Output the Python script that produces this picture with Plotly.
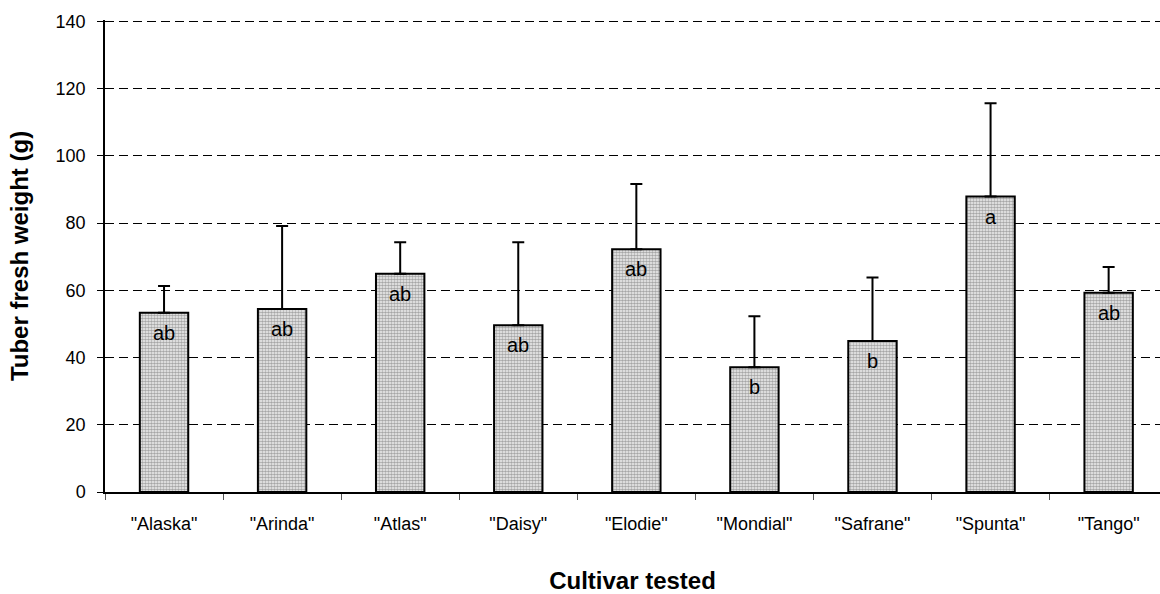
import plotly.graph_objects as go

# Mean tuber fresh weight per cultivar, with standard error above each bar
cultivars = ['"Alaska"', '"Arinda"', '"Atlas"', '"Daisy"', '"Elodie"',
             '"Mondial"', '"Safrane"', '"Spunta"', '"Tango"']
weights = [53.3, 54.4, 64.9, 49.6, 72.2, 37.1, 44.9, 87.9, 59.3]
errors = [8.0, 24.7, 9.4, 24.7, 19.4, 15.2, 18.9, 27.7, 7.6]
groups = ["ab", "ab", "ab", "ab", "ab", "b", "b", "a", "ab"]
y_ticks = [0, 20, 40, 60, 80, 100, 120, 140]

FONT = "Liberation Sans, Arial, sans-serif"

fig = go.Figure()
fig.add_trace(go.Bar(
    x=cultivars,
    y=weights,
    width=0.41,
    marker=dict(
        color="white",
        line=dict(color="black", width=2),
        pattern=dict(shape=".", size=3, solidity=0.6,
                     fgcolor="#585858", bgcolor="#f4f4f4", fillmode="overlay"),
    ),
    error_y=dict(type="data", symmetric=False, array=errors,
                 arrayminus=[0] * len(errors),
                 color="black", thickness=2, width=6),
    showlegend=False,
    hoverinfo="skip",
))

# Significance letters placed just below the top of each bar
for c, w, g in zip(cultivars, weights, groups):
    fig.add_annotation(x=c, y=w, text=g, showarrow=False,
                       yanchor="top", yshift=-7,
                       font=dict(family=FONT, size=20, color="black"))

fig.update_layout(
    width=1160, height=594,
    margin=dict(l=105, r=0, t=20, b=102),
    paper_bgcolor="white", plot_bgcolor="white",
    font=dict(family=FONT, color="black"),
)

fig.update_xaxes(
    type="category",
    range=[-0.5, 8.435],
    showline=True, linecolor="black", linewidth=1.5,
    ticks="outside", tickson="boundaries", ticklen=6,
    tickcolor="#555555", tickwidth=1,
    tickfont=dict(family=FONT, size=18, color="black"),
    ticklabelstandoff=15,
    showgrid=False,
    title=dict(text="<b>Cultivar tested</b>",
               font=dict(family=FONT, size=24, color="black"),
               standoff=44),
)

fig.update_yaxes(
    range=[0, 140.4],
    tickvals=y_ticks,
    showline=True, linecolor="black", linewidth=1.5,
    ticks="outside", ticklen=6, tickcolor="black", tickwidth=1,
    tickfont=dict(family=FONT, size=18, color="black"),
    ticklabelstandoff=8,
    showgrid=True, gridcolor="black", gridwidth=1, griddash="9px,5px",
    zeroline=False,
    title=dict(text="<b>Tuber fresh weight (g)</b>",
               font=dict(family=FONT, size=24, color="black"),
               standoff=20),
)

fig.write_html("out.html")
